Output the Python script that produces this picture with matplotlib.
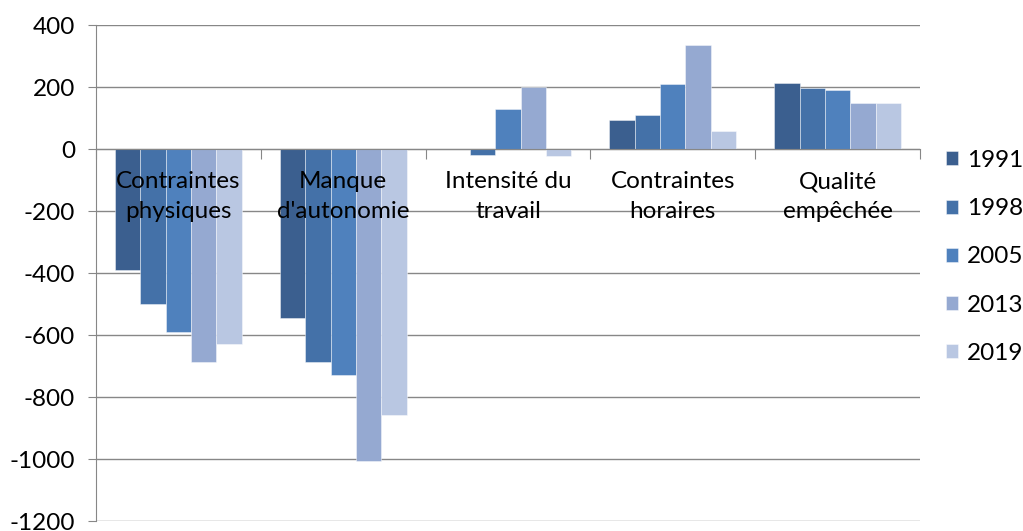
import numpy as np
import matplotlib
matplotlib.use("Agg")
import matplotlib.pyplot as plt

plt.rcParams['font.family'] = ['Lato', 'DejaVu Sans']
plt.rcParams['axes.unicode_minus'] = False

# data
categories = ["Contraintes\nphysiques", "Manque\nd'autonomie", "Intensité du\ntravail",
              "Contraintes\nhoraires", "Qualité\nempêchée"]
years = ["1991", "1998", "2005", "2013", "2019"]
v1991 = [-390, -546, 0, 93, 214]
v1998 = [-500, -686, -20, 110, 196]
v2005 = [-590, -730, 130, 211, 190]
v2013 = [-687, -1006, 200, 334, 149]
v2019 = [-628, -857, -24, 59, 148]
series = [v1991, v1998, v2005, v2013, v2019]
colors = ["#3B5F8F", "#4471A8", "#4F81BD", "#95A9D1", "#B9C7E2"]

fig = plt.figure(figsize=(10.23, 5.31), dpi=100)
ax = fig.add_axes([96 / 1023, 1 - 521 / 531, (920 - 96) / 1023, (521 - 25) / 531])

x = np.arange(len(categories))
w = 0.77 / len(years)
for j, (vals, c, yr) in enumerate(zip(series, colors, years)):
    ax.bar(x + (j - 2) * w, vals, width=w, color=c, edgecolor=(1, 1, 1, 0.5),
           linewidth=0.6, label=yr, zorder=3)

ax.set_xlim(-0.5, len(categories) - 0.5)
ax.set_ylim(-1200, 400)
ax.set_yticks(np.arange(-1200, 401, 200))
ax.yaxis.grid(True, color="#878787", linewidth=1.0, zorder=0)
ax.set_axisbelow(True)

for s in ["top", "right"]:
    ax.spines[s].set_visible(False)
ax.spines["left"].set_color("#878787")
ax.spines["bottom"].set_position(("data", 0))
ax.spines["bottom"].set_color("#878787")
ax.spines["bottom"].set_zorder(4)

ax.set_xticks(np.arange(-0.5, len(categories), 1.0))
ax.set_xticklabels([])
ax.tick_params(axis="x", direction="out", length=7, color="#878787")
ax.tick_params(axis="y", direction="out", length=6, color="#878787",
               labelsize=17.5, pad=9)

for i, lab in enumerate(categories):
    ax.annotate(lab, xy=(i, 0), xytext=(0, -16), textcoords="offset points",
                ha="center", va="top", fontsize=17.5, linespacing=1.5, zorder=5)

ax.legend(loc="upper left", bbox_to_anchor=(946 / 1023, 1 - 150 / 531),
          bbox_transform=fig.transFigure, frameon=False, fontsize=17.5,
          handlelength=0.5, handleheight=0.5, handletextpad=0.35,
          labelspacing=1.12, borderpad=0, borderaxespad=0)

fig.savefig("out.png", dpi=100)
